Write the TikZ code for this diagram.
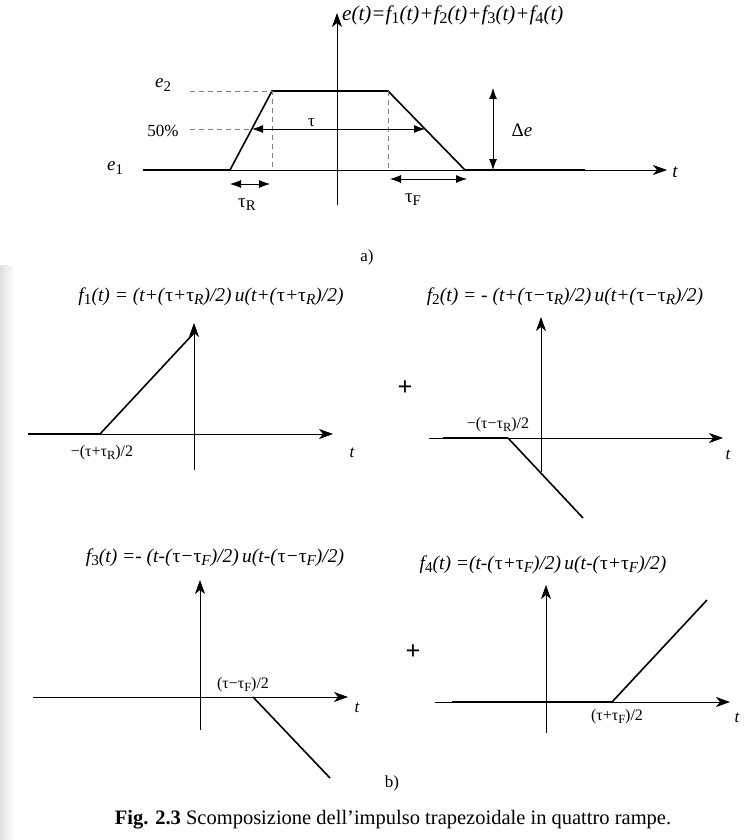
\documentclass[tikz,border=0pt]{standalone}
\usepackage{fontspec}
\usepackage{graphicx}
\setmainfont{Liberation Serif}
\usetikzlibrary{arrows.meta, positioning, calc}
\newcommand{\utau}{\textup{τ}}
\newcommand{\sub}[1]{\raisebox{-0.35ex}{\scalebox{0.78}{#1}}}

\begin{document}
\begin{tikzpicture}[
    x=1pt, y=-1pt,
    axis/.style={-{Stealth[length=14pt,width=10pt,inset=4pt]}, line width=0.8pt},
    level/.style={line width=2.4pt},
    ramp/.style={line width=1.6pt, line join=miter},
    guide/.style={gray, line width=0.7pt, dash pattern=on 5pt off 4pt},
    dim/.style={{Latex[length=11pt,width=8pt]}-{Latex[length=11pt,width=8pt]}, line width=0.8pt},
    lbl/.style={font=\fontsize{17}{19}\selectfont, inner sep=1pt},
    pt/.style={font=\fontsize{16}{18}\selectfont, inner sep=1pt},
    tlbl/.style={font=\fontsize{17}{19}\selectfont\itshape, inner sep=1pt},
    plus/.style={font=\fontsize{26}{28}\selectfont\bfseries, inner sep=1pt},
    formula/.style={font=\fontsize{19.5}{22}\selectfont\itshape, inner sep=1pt}
]
    \useasboundingbox (0,0) rectangle (755,840);
    \shade[left color=black!12, right color=white] (0,265) rectangle (14,840);

    % a) trapezoidal pulse
    \coordinate (a0) at (230,170);
    \coordinate (a1) at (272,91);
    \coordinate (a2) at (388,91);
    \coordinate (a3) at (465,170);
    \draw[axis] (337,205) -- (337,13);
    \draw[axis] (143,170) -- (667,170);
    \draw[level] (143,170) -- (a0);
    \draw[level] (a3) -- (585,170);
    \draw[ramp] (a0) -- (a1) -- (a2) -- (a3);
    \draw[guide] (190,91) -- (a1) -- (272,170);
    \draw[guide] (a2) -- (388,170);
    \draw[guide] (190,129) -- (250,129);
    \draw[dim] (252,129) -- (425,129) node[lbl, midway, above=1pt, xshift=-27pt] {\utau};
    \draw[dim] (230,184) -- (270,184);
    \draw[dim] (390,179) -- (467,179);
    \draw[dim] (493,88) -- (493,170);
    \node[lbl, font=\fontsize{19}{21}\selectfont] (e2) at (163,85) {\textit{e}\sub{2}};
    \node[lbl] (half) at (163,131) {50\%};
    \node[lbl, font=\fontsize{19}{21}\selectfont] (e1) at (115,168) {\textit{e}\sub{1}};
    \node[lbl, font=\fontsize{19}{21}\selectfont] (tR) at (247,205) {τ\sub{R}};
    \node[lbl, font=\fontsize{19}{21}\selectfont] (tF) at (413,200) {τ\sub{F}};
    \node[lbl, font=\fontsize{19}{21}\selectfont] (de) at (522,130) {Δ\textit{e}};
    \node[tlbl, font=\fontsize{19}{21}\selectfont\itshape] (ta) at (675,172) {t};
    \node[formula, font=\fontsize{21}{23}\selectfont\itshape, anchor=west] (et) at (341,15) {e(t)=f\sub{\textup{1}}(t)+f\sub{\textup{2}}(t)+f\sub{\textup{3}}(t)+f\sub{\textup{4}}(t)};
    \node[lbl] (pa) at (367,257) {a)};

    % b) f1
    \draw[axis] (194,470) -- (194,323);
    \draw[axis] (28,434) -- (333,434);
    \draw[level] (28,434) -- (100,434);
    \draw[ramp] (100,434) -- (194,333);
    \node[tlbl] (t1) at (352,453) {t};
    \node[pt] (p1) at (102,453) {−(τ+τ\sub{R})/2};
    \node[formula] (f1) at (211,297) {f\sub{\textup{1}}(t) = (t+(\utau+\utau\sub{R})/2)\,u(t+(\utau+\utau\sub{R})/2)};

    % b) f2
    \node[plus] (plus1) at (405,388) {+};
    \draw[axis] (541,472) -- (541,317);
    \draw[axis] (429,438) -- (723,438);
    \draw[level] (443,438) -- (508,438);
    \draw[ramp] (508,438) -- (583,518);
    \node[tlbl] (t2) at (728,455) {t};
    \node[pt] (p2) at (498,425) {−(τ−τ\sub{R})/2};
    \node[formula] (f2) at (565,297) {f\sub{\textup{2}}(t) = - (t+(\utau−\utau\sub{R})/2)\,u(t+(\utau−\utau\sub{R})/2)};

    % b) f3
    \draw[axis] (200,730) -- (200,580);
    \draw[axis] (33,697) -- (348,697);
    \draw[ramp] (253,697) -- (330,778);
    \node[tlbl] (t3) at (357,708) {t};
    \node[pt] (p3) at (243,685) {(τ−τ\sub{F})/2};
    \node[formula] (f3) at (215,558) {f\sub{\textup{3}}(t) =- (t-(\utau−\utau\sub{F})/2)\,u(t-(\utau−\utau\sub{F})/2)};

    % b) f4
    \node[plus] (plus2) at (413,652) {+};
    \draw[axis] (546,733) -- (546,585);
    \draw[axis] (435,702) -- (730,702);
    \draw[level] (452,702) -- (612,702);
    \draw[ramp] (612,702) -- (707,600);
    \node[tlbl] (t4) at (737,718) {t};
    \node[pt] (p4) at (617,717) {(τ+τ\sub{F})/2};
    \node[formula] (f4) at (543,565) {f\sub{\textup{4}}(t) =(t-(\utau+\utau\sub{F})/2)\,u(t-(\utau+\utau\sub{F})/2)};
    \node[lbl] (pb) at (392,783) {b)};

    % caption
    \node[lbl, font=\fontsize{20.5}{22}\selectfont] (cap) at (393,820) {\textbf{Fig. 2.3} Scomposizione dell’impulso trapezoidale in quattro rampe.};
\end{tikzpicture}
\end{document}
